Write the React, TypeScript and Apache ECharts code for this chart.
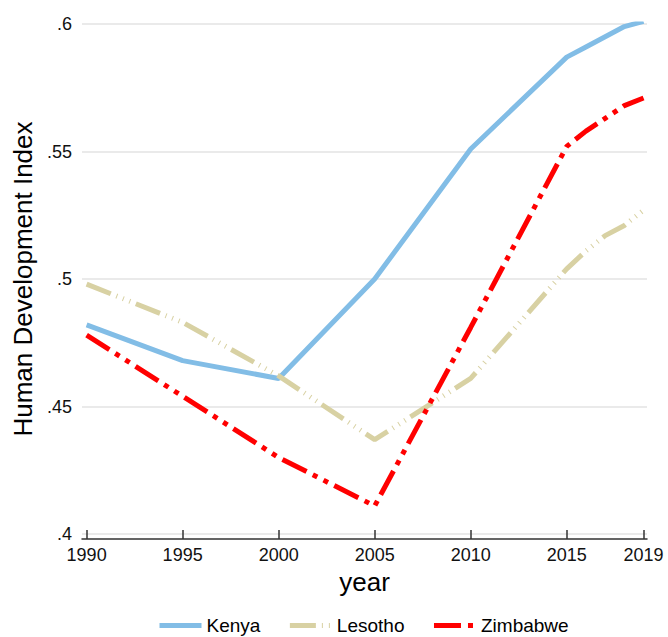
import React, { useEffect, useRef } from "react";
import * as echarts from "echarts";

const kenyaYears = [1990, 1995, 2000, 2005, 2010, 2015, 2016, 2017, 2018, 2019];
const kenyaHDI = [0.482, 0.468, 0.461, 0.5, 0.551, 0.587, 0.591, 0.595, 0.599, 0.601];

const lesothoYears = [1990, 1995, 2000, 2005, 2010, 2015, 2016, 2017, 2018, 2019];
const lesothoHDI = [0.498, 0.483, 0.462, 0.437, 0.461, 0.504, 0.511, 0.517, 0.521, 0.527];

const zimbabweYears = [1990, 1995, 2000, 2005, 2010, 2015, 2016, 2017, 2018, 2019];
const zimbabweHDI = [0.478, 0.454, 0.43, 0.411, 0.481, 0.552, 0.558, 0.563, 0.568, 0.571];

const xTicks = [1990, 1995, 2000, 2005, 2010, 2015, 2019];

const FONT = "'Liberation Sans', Arial, sans-serif";

function pairs(xs: number[], ys: number[]) {
  return xs.map((x, i) => [x, ys[i]]);
}

export default function App() {
  const ref = useRef<HTMLDivElement>(null);
  useEffect(() => {
    if (!ref.current) return;
    const chart = echarts.init(ref.current, undefined, { renderer: "svg" });
    chart.setOption({
      animation: false,
      backgroundColor: "#ffffff",
      grid: { left: 82, right: 21, top: 24, bottom: 103, containLabel: false },
      xAxis: {
        type: "value",
        min: 1989.76,
        max: 2019.18,
        offset: 5,
        name: "year",
        nameLocation: "middle",
        nameGap: 23,
        nameTextStyle: { fontFamily: FONT, fontSize: 26, color: "#000" },
        axisLine: { show: true, lineStyle: { color: "#333", width: 1.5 } },
        axisTick: {
          show: true,
          inside: true,
          length: 9,
          customValues: xTicks,
          lineStyle: { color: "#333", width: 1.5 },
        },
        axisLabel: {
          customValues: xTicks,
          margin: 7,
          fontFamily: FONT,
          fontSize: 18,
          color: "#111",
          formatter: (v: number) => String(Math.round(v)),
        },
        splitLine: { show: false },
      },
      yAxis: {
        type: "value",
        min: 0.4,
        max: 0.6,
        interval: 0.05,
        name: "Human Development Index",
        nameLocation: "middle",
        nameGap: 45,
        nameTextStyle: {
          fontFamily: FONT,
          fontSize: 26,
          color: "#000",
        },
        axisLine: { show: false },
        axisTick: { show: false },
        axisLabel: {
          margin: 10,
          fontFamily: FONT,
          fontSize: 18,
          color: "#111",
          formatter: (v: number) => String(parseFloat(v.toFixed(2))).replace(/^0/, ""),
        },
        splitLine: { show: true, lineStyle: { color: "#e3e3e3", width: 1.5 } },
      },
      legend: {
        left: 157,
        top: 616,
        padding: 0,
        itemWidth: 42,
        itemHeight: 14,
        itemGap: 27,
        selectedMode: false,
        textStyle: { fontFamily: FONT, fontSize: 19, color: "#000" },
        itemStyle: { opacity: 0 },
        lineStyle: { width: 5 },
        data: ["Kenya", "Lesotho", "Zimbabwe"],
      },
      series: [
        {
          name: "Kenya",
          type: "line",
          data: pairs(kenyaYears, kenyaHDI),
          showSymbol: false,
          symbol: "circle",
          color: "#82bde6",
          lineStyle: { color: "#82bde6", width: 5, type: "solid" },
        },
        {
          name: "Lesotho",
          type: "line",
          data: pairs(lesothoYears, lesothoHDI),
          showSymbol: false,
          symbol: "circle",
          color: "#d8d1a3",
          lineStyle: {
            color: "#d8d1a3",
            width: 5,
            type: [26, 6, 1, 6, 1, 6, 1, 6],
            cap: "butt",
          },
        },
        {
          name: "Zimbabwe",
          type: "line",
          data: pairs(zimbabweYears, zimbabweHDI),
          showSymbol: false,
          symbol: "circle",
          color: "#ff0000",
          lineStyle: {
            color: "#ff0000",
            width: 5,
            type: [27, 7, 5, 7, 5, 7],
            cap: "butt",
          },
        },
      ],
    });
    return () => chart.dispose();
  }, []);
  return <div ref={ref} style={{ width: 668, height: 637, position: "absolute", left: 0, top: 0 }} />;
}
